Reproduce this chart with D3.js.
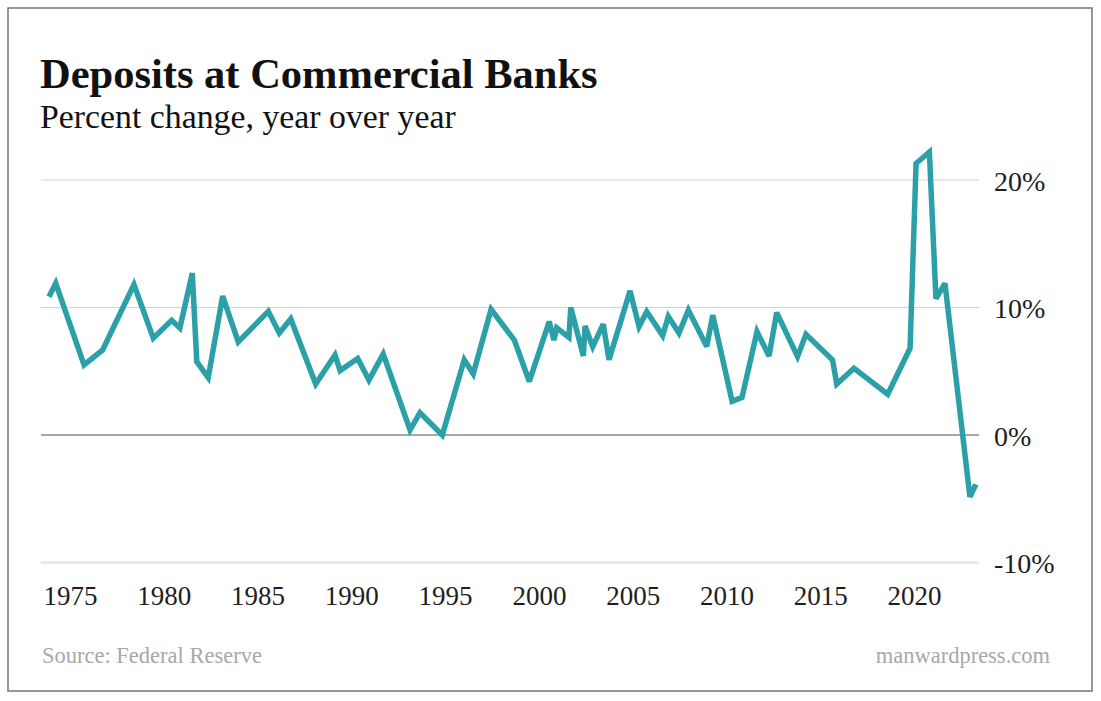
<!DOCTYPE html>
<html>
<head>
<meta charset="utf-8">
<script src="https://cdn.jsdelivr.net/npm/d3@7/dist/d3.min.js"></script>
<style>
  html, body { margin: 0; padding: 0; background: #fff; }
  svg { display: block; }
  text { font-family: "Liberation Serif", "Times New Roman", serif; }
</style>
</head>
<body>
<svg id="chart" width="1101" height="701"></svg>
<script>
// ---- Data ----
const dates = [
  1973.88, 1974.24, 1975.75, 1976.74, 1978.41, 1979.44, 1980.42, 1980.86, 1981.52, 1981.76,
  1982.37, 1983.14, 1983.97, 1985.57, 1986.16, 1986.77, 1988.10, 1989.13, 1989.40, 1990.34,
  1990.94, 1991.70, 1993.13, 1993.66, 1994.85, 1996.02, 1996.50, 1997.45, 1998.69, 1999.49,
  2000.55, 2000.80, 2000.95, 2001.60, 2001.70, 2002.37, 2002.46, 2002.87, 2003.43, 2003.74,
  2004.86, 2005.34, 2005.75, 2006.60, 2006.90, 2007.47, 2007.97, 2008.95, 2009.27, 2010.30,
  2010.83, 2011.63, 2012.27, 2012.68, 2013.79, 2014.24, 2015.66, 2015.88, 2016.80, 2018.60,
  2019.79, 2020.11, 2020.82, 2021.17, 2021.65, 2022.98, 2023.30
];
const deposits = [
  10.85, 11.9, 5.5, 6.67, 11.8, 7.6, 9.0, 8.4, 12.7, 5.75,
  4.5, 10.9, 7.3, 9.7, 8.0, 9.1, 4.0, 6.27, 5.05, 6.0,
  4.3, 6.35, 0.4, 1.75, 0.0, 5.9, 4.8, 9.85, 7.45, 4.2,
  8.9, 7.45, 8.4, 7.66, 10.0, 6.2, 8.55, 6.93, 8.7, 5.9,
  11.3, 8.5, 9.67, 7.8, 9.3, 8.0, 9.8, 6.95, 9.4, 2.65,
  2.95, 8.1, 6.2, 9.6, 6.15, 7.9, 5.88, 4.0, 5.23, 3.2,
  6.8, 21.3, 22.2, 10.7, 11.9, -4.84, -3.87
];
const xTickYears = [1975, 1980, 1985, 1990, 1995, 2000, 2005, 2010, 2015, 2020];
const yTickValues = [-10, 0, 10, 20];
const titleText = "Deposits at Commercial Banks";
const subtitleText = "Percent change, year over year";
const sourceText = "Source: Federal Reserve";
const creditText = "manwardpress.com";

// ---- Drawing ----
const svg = d3.select("#chart");
const FONT = '"Liberation Serif", "Times New Roman", serif';

const x = d3.scaleLinear().domain([1975, 2020]).range([70, 914]);
const y = d3.scaleLinear().domain([-10, 20]).range([562.5, 180]);

const gridLeft = 41, gridRight = 979;

// frame
svg.append("rect")
  .attr("x", 8).attr("y", 8)
  .attr("width", 1084).attr("height", 683)
  .attr("fill", "#fff")
  .attr("stroke", "#7d7d7d")
  .attr("stroke-width", 1.6);

// gridlines
svg.append("g").selectAll("line")
  .data(yTickValues)
  .join("line")
  .attr("x1", gridLeft).attr("x2", gridRight)
  .attr("y1", d => y(d)).attr("y2", d => y(d))
  .attr("stroke", d => d === 0 ? "#a8a8a8" : (d === -10 ? "#e6e6e6" : "#d2d2d2"))
  .attr("stroke-width", d => d === 0 ? 2 : (d === -10 ? 2.5 : 1));

// y axis labels (right)
const yAxis = d3.axisRight(y)
  .tickValues(yTickValues)
  .tickSize(0)
  .tickPadding(15)
  .tickFormat(d => d + "%");
const gy = svg.append("g")
  .attr("transform", `translate(${gridRight},0)`)
  .call(yAxis);
gy.select(".domain").remove();
gy.selectAll("text")
  .attr("dy", "0.37em")
  .attr("fill", "#1e1e1e")
  .style("font-family", FONT)
  .style("font-size", "28px");

// x axis labels
const xAxis = d3.axisBottom(x)
  .tickValues(xTickYears)
  .tickSize(0)
  .tickPadding(0)
  .tickFormat(d3.format("d"));
const gx = svg.append("g")
  .attr("transform", "translate(0,605)")
  .call(xAxis);
gx.select(".domain").remove();
gx.selectAll("text")
  .attr("dy", "0")
  .attr("y", 0)
  .attr("fill", "#1e1e1e")
  .style("font-family", FONT)
  .style("font-size", "27px");

// line
const line = d3.line()
  .x((d, i) => x(dates[i]))
  .y(d => y(d));
svg.append("path")
  .datum(deposits)
  .attr("d", line)
  .attr("fill", "none")
  .attr("stroke", "#2ba0a8")
  .attr("stroke-width", 5.5)
  .attr("stroke-linejoin", "miter")
  .attr("stroke-miterlimit", 3)
  .attr("stroke-linecap", "butt");

// titles
svg.append("text")
  .attr("x", 40).attr("y", 88)
  .attr("fill", "#111")
  .style("font-size", "42.5px")
  .style("font-weight", "bold")
  .text(titleText);

svg.append("text")
  .attr("x", 40).attr("y", 128)
  .attr("fill", "#111")
  .style("font-size", "33.8px")
  .text(subtitleText);

// footer
svg.append("text")
  .attr("x", 42).attr("y", 663)
  .attr("fill", "#a8a8a8")
  .style("font-size", "22.5px")
  .text(sourceText);

svg.append("text")
  .attr("x", 1050).attr("y", 663)
  .attr("text-anchor", "end")
  .attr("fill", "#a8a8a8")
  .style("font-size", "22.5px")
  .text(creditText);
</script>
</body>
</html>
